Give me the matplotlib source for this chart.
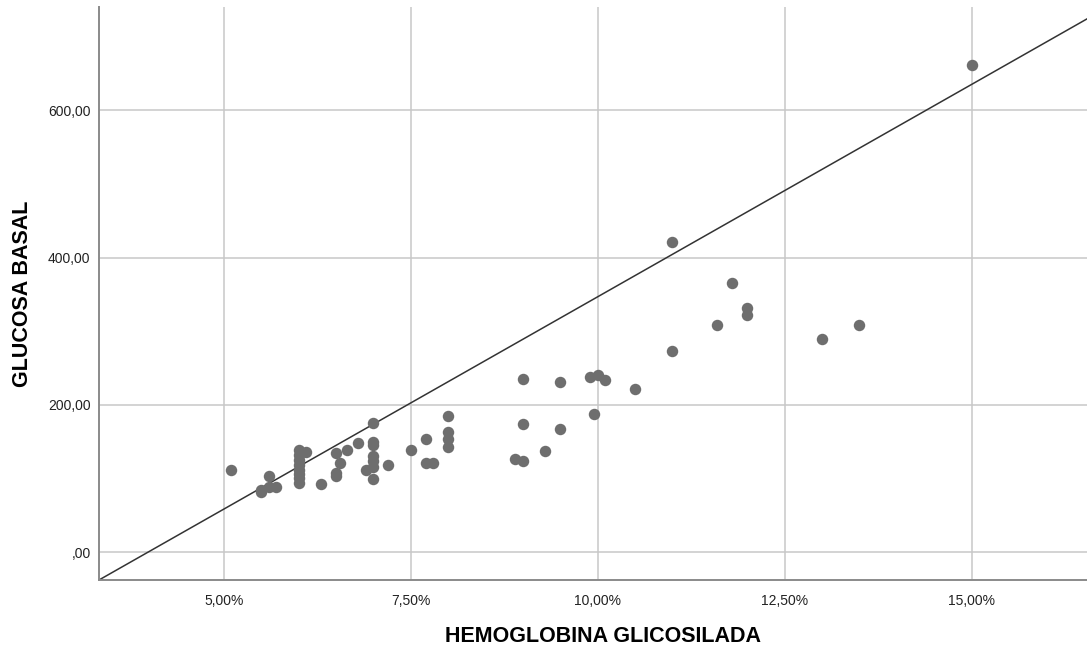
import matplotlib.pyplot as plt
from matplotlib.ticker import FuncFormatter

plt.rcParams['font.family'] = ['Liberation Sans', 'DejaVu Sans']

# hemoglobina glicosilada (%) / glucosa basal
hba1c = [5.1, 5.5, 5.5, 5.6, 5.6, 5.7,
         6.0, 6.0, 6.0, 6.0, 6.0, 6.0, 6.0, 6.0, 6.1, 6.3,
         6.5, 6.5, 6.5, 6.55, 6.65, 6.8, 6.9,
         7.0, 7.0, 7.0, 7.0, 7.0, 7.0, 7.0, 7.2, 7.5,
         7.7, 7.7, 7.8, 8.0, 8.0, 8.0, 8.0,
         8.9, 9.0, 9.0, 9.0, 9.3, 9.5, 9.5,
         9.9, 9.95, 10.0, 10.1, 10.5,
         11.0, 11.0, 11.6, 11.8, 12.0, 12.0, 13.0, 13.5, 15.0]
glucosa = [111, 84, 82, 88, 103, 88,
           138, 132, 125, 118, 112, 106, 100, 94, 136, 93,
           134, 108, 103, 121, 138, 148, 111,
           175, 150, 145, 130, 124, 116, 99, 118, 139,
           153, 121, 121, 185, 163, 153, 142,
           127, 235, 174, 123, 137, 231, 167,
           238, 187, 240, 233, 221,
           421, 273, 308, 365, 331, 322, 289, 308, 662]

x_ticks = [5.0, 7.5, 10.0, 12.5, 15.0]
y_ticks = [0, 200, 400, 600]


def fmt_pct(v, pos):
    return f"{v:.2f}%".replace(".", ",")


def fmt_num(v, pos):
    s = f"{v:.2f}".replace(".", ",")
    return s[1:] if s.startswith("0,") else s


fig = plt.figure(figsize=(10.87, 6.51), dpi=100)
# the plot area runs a little past the right edge of the picture (cropped)
ax = fig.add_axes([0.091, 0.109, 0.928, 0.88])

ax.scatter(hba1c, glucosa, s=68, color="#6e6e6e", zorder=3, linewidths=0)
ax.plot([0, 1], [0, 1], transform=ax.transAxes, color="#333333", lw=1.1, zorder=2)

ax.set_xlim(3.33, 16.82)
ax.set_ylim(-38, 740)
ax.set_xticks(x_ticks)
ax.set_yticks(y_ticks)
ax.xaxis.set_major_formatter(FuncFormatter(fmt_pct))
ax.yaxis.set_major_formatter(FuncFormatter(fmt_num))
ax.tick_params(length=0, labelsize=10, colors="#222222")
ax.tick_params(axis="x", pad=10)
ax.tick_params(axis="y", pad=6)

ax.grid(True, color="#c8c8c8", lw=1.1)
ax.set_axisbelow(True)
for side in ["top", "right"]:
    ax.spines[side].set_visible(False)
for side in ["left", "bottom"]:
    ax.spines[side].set_color("#8a8a8a")
    ax.spines[side].set_linewidth(1.4)

ax.set_xlabel("HEMOGLOBINA GLICOSILADA", fontsize=15.5, fontweight="bold", labelpad=13)
ax.set_ylabel("GLUCOSA BASAL", fontsize=15.5, fontweight="bold", labelpad=11)

fig.savefig("out.png", dpi=100)
